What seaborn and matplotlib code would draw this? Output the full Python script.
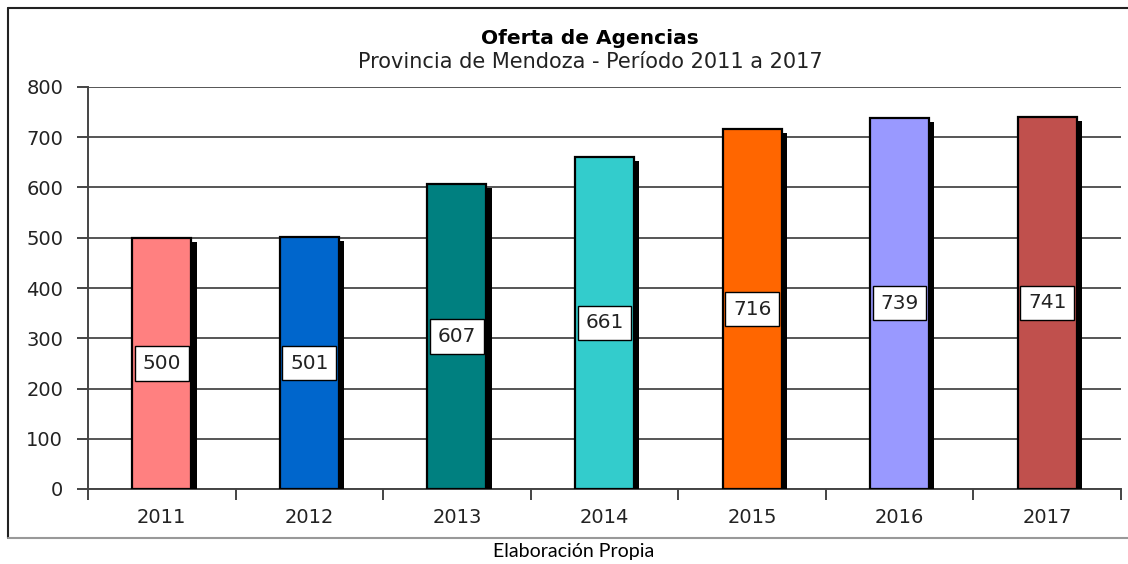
import numpy as np
import pandas as pd
import matplotlib
matplotlib.use('Agg')
import matplotlib.pyplot as plt
import matplotlib.patheffects as pe
from matplotlib.lines import Line2D
import seaborn as sns

years = ['2011', '2012', '2013', '2014', '2015', '2016', '2017']
agencias = [500, 501, 607, 661, 716, 739, 741]
colores = ['#FF8080', '#0066CC', '#008080', '#33CCCC', '#FF6600', '#9999FF', '#C0504D']
yticks = [0, 100, 200, 300, 400, 500, 600, 700, 800]

sns.set_style('white')
plt.rcParams['font.family'] = ['DejaVu Sans']

df = pd.DataFrame({'anio': years, 'agencias': agencias})

fig = plt.figure(figsize=(11.28, 5.64), dpi=100)
ax = fig.add_axes([88/1128, 1-489/564, (1121-88)/1128, (489-87)/564])

sns.barplot(data=df, x='anio', y='agencias', hue='anio', palette=colores,
            saturation=1, width=0.4, edgecolor='black', linewidth=1.6, legend=False,
            ax=ax, zorder=3)

# sombra negra de cada barra
for bar in ax.patches:
    bar.set_path_effects([pe.SimplePatchShadow(offset=(3.8, -3), shadow_rgbFace='black', alpha=1.0),
                          pe.Normal()])

# etiquetas de valor en el medio de la barra
for i, v in enumerate(agencias):
    ax.text(i, v/2, str(v), ha='center', va='center', fontsize=14.5, color='#222222', zorder=5,
            bbox=dict(boxstyle='square,pad=0.38', facecolor='white', edgecolor='black', linewidth=1))

ax.set_ylim(0, 800)
ax.set_xlim(-0.5, len(years) - 0.5)
ax.set_yticks(yticks)
ax.yaxis.grid(True, color='#555555', linewidth=1.4, zorder=0)
ax.set_axisbelow(True)
ax.set_xlabel('')
ax.set_ylabel('')

for s in ['top', 'right']:
    ax.spines[s].set_visible(False)
for s in ['left', 'bottom']:
    ax.spines[s].set_color('#444444')
    ax.spines[s].set_linewidth(1.4)

ax.tick_params(axis='y', length=8, width=1.4, color='#444444', direction='out',
               labelsize=14, labelcolor='#222222', pad=10, left=True)
ax.tick_params(axis='x', which='major', length=0, labelsize=14, labelcolor='#222222', pad=14)
ax.set_xticks(np.arange(-0.5, len(years)), minor=True)
ax.tick_params(axis='x', which='minor', length=8, width=1.4, color='#444444', direction='out', bottom=True)

# marco del gráfico
fig.add_artist(Line2D([8/1128, 8/1128], [1-8/564, 1-538/564], transform=fig.transFigure, color='#222222', lw=1.5))
fig.add_artist(Line2D([8/1128, 1.0], [1-8/564, 1-8/564], transform=fig.transFigure, color='#222222', lw=1.5))
fig.add_artist(Line2D([8/1128, 1.0], [1-538/564, 1-538/564], transform=fig.transFigure, color='#999999', lw=1.5))

fig.text(590/1128, 1-38/564, 'Oferta de Agencias', ha='center', va='center',
         fontsize=14.5, fontweight='bold', color='black')
fig.text(590/1128, 1-62/564, 'Provincia de Mendoza - Período 2011 a 2017', ha='center', va='center',
         fontsize=15, color='#222222')
fig.text(574/1128, 1-552/564, 'Elaboración Propia', ha='center', va='center',
         fontsize=14, color='black', family=['Lato', 'DejaVu Sans'])

fig.savefig('out.png', dpi=100)
